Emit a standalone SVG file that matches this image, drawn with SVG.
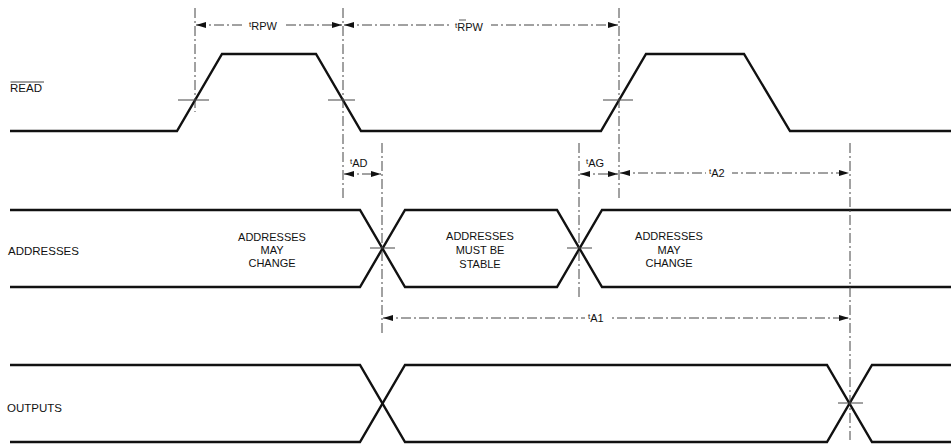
<svg xmlns="http://www.w3.org/2000/svg" width="951" height="446" viewBox="0 0 951 446">
<style>
.w{fill:none;stroke:#111;stroke-width:2.4;stroke-linejoin:miter}
.d{fill:none;stroke:#444;stroke-width:1;stroke-dasharray:10 3 2 3}
.x{fill:none;stroke:#444;stroke-width:1}
.dim{fill:none;stroke:#444;stroke-width:1;stroke-dasharray:10 3 2 3;marker-start:url(#a);marker-end:url(#a)}
text{font-family:"Liberation Sans",Arial,sans-serif;fill:#111}
.l{font-size:11.5px}
.c{font-size:11px;text-anchor:middle}
.t{font-size:11px}
.s{font-size:8px}
</style>
<defs>
<marker id="a" viewBox="0 0 10 6" refX="10" refY="3" markerWidth="13" markerHeight="6" markerUnits="userSpaceOnUse" orient="auto-start-reverse">
<path d="M0,0 L10,3 L0,6 Z" fill="#111"/>
</marker>
</defs>
<g id="labels">
<text class="l" x="10" y="92">READ</text>
<line x1="10.5" y1="82" x2="44" y2="82" stroke="#111" stroke-width="0.8"/>
<text class="l" x="8" y="255">ADDRESSES</text>
<text class="l" x="7" y="412">OUTPUTS</text>
</g>
<g id="read">
<path class="w" d="M10,131 H177 L222,54 H316 L361,131 H601 L646,54 H744 L790,131 H951"/>
</g>
<g id="addresses">
<path class="w" d="M10,210 H360 L405,287 H557 L602,210 H951"/>
<path class="w" d="M10,287 H360 L405,210 H557 L602,287 H951"/>
<text class="c" x="272" y="241">ADDRESSES</text>
<text class="c" x="272" y="254">MAY</text>
<text class="c" x="272" y="267">CHANGE</text>
<text class="c" x="480" y="240">ADDRESSES</text>
<text class="c" x="480" y="254">MUST BE</text>
<text class="c" x="480" y="268">STABLE</text>
<text class="c" x="669" y="240">ADDRESSES</text>
<text class="c" x="669" y="254">MAY</text>
<text class="c" x="669" y="267">CHANGE</text>
</g>
<g id="outputs">
<path class="w" d="M10,365 H360 L405,442 H827 L872,365 H951"/>
<path class="w" d="M10,442 H360 L405,365 H827 L872,442 H951"/>
</g>
<g id="connectors">
<line class="d" x1="195" y1="8" x2="195" y2="112"/>
<line class="d" x1="343" y1="8" x2="343" y2="200"/>
<line class="d" x1="619" y1="8" x2="619" y2="200"/>
<line class="d" x1="382" y1="143" x2="382" y2="333"/>
<line class="d" x1="579" y1="143" x2="579" y2="297"/>
<line class="d" x1="850" y1="143" x2="850" y2="440"/>
<line class="x" x1="178" y1="100" x2="209" y2="100"/>
<line class="x" x1="328" y1="100" x2="355" y2="100"/>
<line class="x" x1="603" y1="100" x2="633" y2="100"/>
<line class="x" x1="370" y1="248" x2="395" y2="248"/>
<line class="x" x1="567" y1="248" x2="592" y2="248"/>
<line class="x" x1="838" y1="403" x2="863" y2="403"/>
<line class="dim" x1="196" y1="25" x2="342" y2="25"/>
<line class="dim" x1="344" y1="25" x2="618" y2="25"/>
<line class="dim" x1="344" y1="174" x2="381" y2="174"/>
<line class="dim" x1="580" y1="174" x2="618" y2="174"/>
<line class="dim" x1="620" y1="173" x2="849" y2="173"/>
<line class="dim" x1="383" y1="318" x2="849" y2="318"/>
</g>
<g id="dim-labels">
<rect x="245" y="16" width="38" height="16" fill="#fff"/>
<text x="249" y="30"><tspan class="s" dy="-3">t</tspan><tspan class="t" dy="3">RPW</tspan></text>
<rect x="451" y="14" width="40" height="18" fill="#fff"/>
<text x="455" y="31"><tspan class="s" dy="-3">t</tspan><tspan class="t" dy="3">RPW</tspan></text>
<line x1="459" y1="20" x2="466" y2="20" stroke="#111" stroke-width="0.7"/>
<text x="350" y="167"><tspan class="s" dy="-3">t</tspan><tspan class="t" dy="3">AD</tspan></text>
<text x="586" y="167"><tspan class="s" dy="-3">t</tspan><tspan class="t" dy="3">AG</tspan></text>
<rect x="706" y="165" width="26" height="15" fill="#fff"/>
<text x="709" y="177"><tspan class="s" dy="-3">t</tspan><tspan class="t" dy="3">A2</tspan></text>
<rect x="585" y="310" width="26" height="15" fill="#fff"/>
<text x="588" y="322"><tspan class="s" dy="-3">t</tspan><tspan class="t" dy="3">A1</tspan></text>
</g>
</svg>
